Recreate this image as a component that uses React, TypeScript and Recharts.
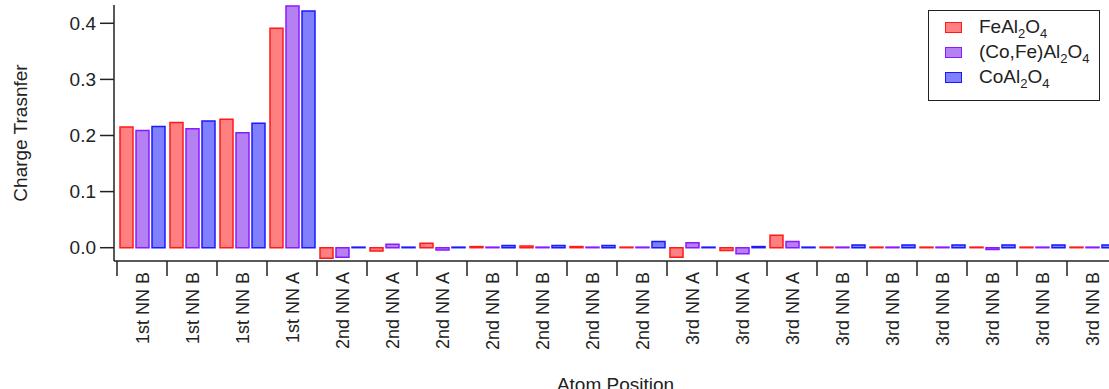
import React from "react";
import { BarChart, Bar, XAxis, YAxis, Legend, Label } from "recharts";

const categories = [
  "1st NN B", "1st NN B", "1st NN B", "1st NN A",
  "2nd NN A", "2nd NN A", "2nd NN A",
  "2nd NN B", "2nd NN B", "2nd NN B", "2nd NN B",
  "3rd NN A", "3rd NN A", "3rd NN A",
  "3rd NN B", "3rd NN B", "3rd NN B", "3rd NN B", "3rd NN B", "3rd NN B",
];

const feAl2O4 = [0.215, 0.223, 0.229, 0.391, -0.019, -0.006, 0.008, 0.002, 0.003, 0.002, 0.001, -0.017, -0.005, 0.022, 0.001, 0.001, 0.001, 0.001, 0.001, 0.001];
const coFeAl2O4 = [0.209, 0.212, 0.205, 0.431, -0.017, 0.006, -0.004, 0.001, 0.001, 0.001, 0.001, 0.009, -0.011, 0.011, 0.001, 0.001, 0.001, -0.003, 0.001, 0.001];
const coAl2O4 = [0.216, 0.226, 0.222, 0.422, 0.001, 0.001, 0.001, 0.004, 0.004, 0.004, 0.011, 0.001, 0.002, 0.001, 0.005, 0.005, 0.005, 0.005, 0.005, 0.005];

const seriesNames = ["FeAl2O4", "(Co,Fe)Al2O4", "CoAl2O4"];
const seriesKeys = ["fe", "cofe", "co"];
const fills = ["#ff8080", "#b580f2", "#8080ff"];
const strokes = ["#ff1a1a", "#8a1aff", "#1a1aff"];

const yTicks = [0, 0.1, 0.2, 0.3, 0.4];

const data = categories.map((c, i) => ({
  i,
  fe: feAl2O4[i],
  cofe: coFeAl2O4[i],
  co: coAl2O4[i],
}));

const FONT = "'Liberation Sans', Arial, sans-serif";
const CHART_W = 1130;
const CHART_H = 410;
const MARGIN = { top: 5, right: 13, left: 0, bottom: 0 };
const Y_W = 114;
const PAD_L = 3;
const PLOT_W = CHART_W - MARGIN.right - Y_W - PAD_L;
const HALF_BAND = PLOT_W / categories.length / 2;
const AXIS = "#222";

const XTick = (props: any) => {
  const { x, y, payload, index } = props;
  const last = index === categories.length - 1;
  return (
    <g>
      <line x1={x - HALF_BAND} x2={x - HALF_BAND} y1={y} y2={y + 15} stroke={AXIS} strokeWidth={1.5} />
      {last && (
        <line x1={x + HALF_BAND} x2={x + HALF_BAND} y1={y} y2={y + 15} stroke={AXIS} strokeWidth={1.5} />
      )}
      <text
        transform={`translate(${x + 1},${y + 11}) rotate(-90)`}
        textAnchor="end"
        dominantBaseline="central"
        fontSize={18}
        fontFamily={FONT}
        fill="#222"
      >
        {categories[payload.value]}
      </text>
    </g>
  );
};

const Formula = ({ text }: { text: string }) => {
  const parts = text.split(/(\d)/).filter((p) => p !== "");
  return (
    <span>
      {parts.map((p, k) =>
        /\d/.test(p) ? (
          <span key={k} style={{ fontSize: 13, position: "relative", top: 5 }}>{p}</span>
        ) : (
          <span key={k}>{p}</span>
        )
      )}
    </span>
  );
};

const LegendBox = () => (
  <div
    style={{
      border: "1.5px solid #222",
      width: 170,
      height: 85,
      boxSizing: "content-box",
      background: "#fff",
      fontFamily: FONT,
      fontSize: 19,
      color: "#222",
      paddingTop: 4,
      boxShadow: "none",
    }}
  >
    {seriesNames.map((n, k) => (
      <div key={k} style={{ height: 25, display: "flex", alignItems: "center", lineHeight: "25px" }}>
        <div
          style={{
            marginLeft: 16,
            width: 15,
            height: 9,
            background: fills[k],
            border: `1.5px solid ${strokes[k]}`,
          }}
        />
        <div style={{ marginLeft: 17, whiteSpace: "nowrap" }}>
          <Formula text={n} />
        </div>
      </div>
    ))}
  </div>
);

export default function App() {
  return (
    <div
      style={{
        position: "absolute",
        left: 0,
        top: 0,
        width: 1109,
        height: 389,
        overflow: "hidden",
        background: "#fff",
      }}
    >
      <BarChart
        width={CHART_W}
        height={CHART_H}
        data={data}
        margin={MARGIN}
        barCategoryGap={3}
        barGap={3}
      >
        <XAxis
          dataKey="i"
          type="category"
          height={CHART_H - 261}
          padding={{ left: PAD_L, right: 0 }}
          tickSize={0}
          tickMargin={0}
          tickLine={false}
          interval={0}
          axisLine={{ stroke: AXIS, strokeWidth: 1.5 }}
          tick={<XTick />}
        >
          <Label
            value="Atom Position"
            position="insideTop"
            offset={117}
            style={{ fontSize: 19, fontFamily: FONT, fill: "#222" }}
          />
        </XAxis>
        <YAxis
          width={Y_W}
          domain={[-0.0237, 0.4326]}
          ticks={yTicks}
          allowDataOverflow
          tickFormatter={(v: number) => v.toFixed(1)}
          tickSize={14}
          tickMargin={4}
          tick={{ fontSize: 19, fontFamily: FONT, fill: "#222" }}
          tickLine={{ stroke: AXIS, strokeWidth: 1.5 }}
          axisLine={{ stroke: AXIS, strokeWidth: 1.5 }}
        >
          <Label
            value="Charge Trasnfer"
            angle={-90}
            position="insideLeft"
            offset={20}
            style={{ fontSize: 19, fontFamily: FONT, fill: "#222", textAnchor: "middle" }}
          />
        </YAxis>
        <Legend
          layout="vertical"
          align="center"
          verticalAlign="middle"
          content={<LegendBox />}
          wrapperStyle={{ left: 928, top: 10, width: 173, height: 90 }}
        />
        {seriesKeys.map((k, idx) => (
          <Bar
            key={k}
            dataKey={k}
            name={seriesNames[idx]}
            fill={fills[idx]}
            stroke={strokes[idx]}
            strokeWidth={1.5}
            isAnimationActive={false}
          />
        ))}
      </BarChart>
    </div>
  );
}
